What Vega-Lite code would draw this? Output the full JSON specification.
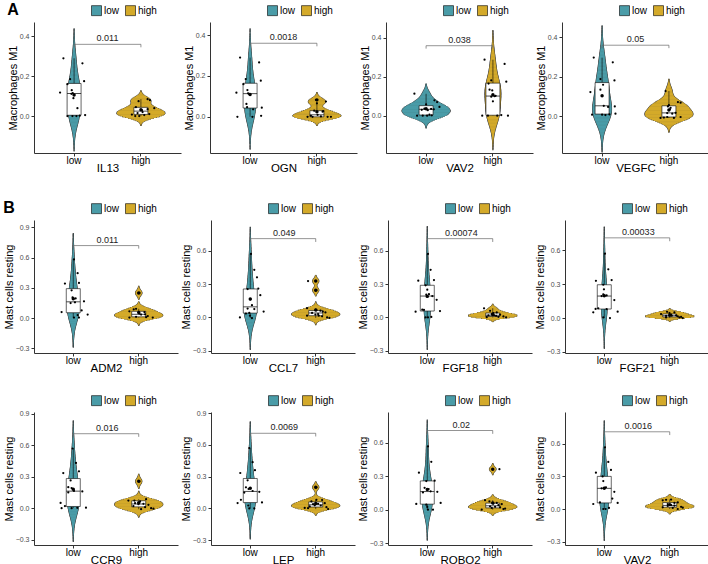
{
"$schema":"https://vega.github.io/schema/vega-lite/v6.json",
"background":"white",
"padding":{"left":3,"top":2,"right":0,"bottom":0},
"config":{
 "font":"Liberation Sans",
 "view":{"stroke":null},
 "axisY":{"labelFontSize":7,"labelColor":"#4d4d4d","titleFontSize":11,"titleFontWeight":"normal","titleColor":"black","domainColor":"#333333","tickColor":"#333333","tickSize":3,"labelPadding":2,"titlePadding":1,"grid":false},
 "axisX":{"labelFontSize":10,"labelColor":"black","titleFontSize":11.5,"titleFontWeight":"normal","titleColor":"black","domainColor":"#333333","tickColor":"#333333","tickSize":3,"labelPadding":-1,"titlePadding":-3,"labelAngle":0,"grid":false},
 "legend":{"orient":"none","legendX":57,"legendY":-17,"direction":"horizontal","symbolType":"square","symbolSize":100,"symbolStrokeColor":"black","symbolStrokeWidth":0.6,"symbolOpacity":1,"labelFontSize":10,"labelColor":"black","columnPadding":4,"labelOffset":2,"padding":0},
 "boxplot":{"size":14,"extent":1.5,"box":{"fill":"white","stroke":"black","strokeWidth":0.6},"median":{"color":"black","strokeWidth":1},"rule":{"color":"black","strokeWidth":0.6},"ticks":false,"outliers":{"filled":true,"color":"black","size":12,"opacity":1}},
 "title":{"anchor":"start","fontSize":16,"fontWeight":"bold","color":"black"}
},
"data":{"values":[
{"g":"IL13","grp":"low","v":0.29,"j":-0.16},{"g":"IL13","grp":"low","v":0.265,"j":0.125},{"g":"IL13","grp":"low","v":0.185,"j":-0.06},{"g":"IL13","grp":"low","v":0.175,"j":0.15},{"g":"IL13","grp":"low","v":0.16,"j":-0.1},{"g":"IL13","grp":"low","v":0.13,"j":-0.035},{"g":"IL13","grp":"low","v":0.118,"j":-0.21},{"g":"IL13","grp":"low","v":0.115,"j":-0.02},{"g":"IL13","grp":"low","v":0.112,"j":-0.04},{"g":"IL13","grp":"low","v":0.09,"j":-0.01},{"g":"IL13","grp":"low","v":0.04,"j":0.05},{"g":"IL13","grp":"low","v":0.005,"j":0.165},{"g":"IL13","grp":"low","v":0,"j":-0.1},{"g":"IL13","grp":"low","v":0,"j":-0.025},{"g":"IL13","grp":"low","v":0,"j":0.035},{"g":"IL13","grp":"low","v":0.002,"j":0.085},
{"g":"IL13","grp":"high","v":0.075,"j":-0.035},{"g":"IL13","grp":"high","v":0.085,"j":0.1},{"g":"IL13","grp":"high","v":0.08,"j":0.135},{"g":"IL13","grp":"high","v":0.045,"j":-0.075},{"g":"IL13","grp":"high","v":0.03,"j":0.015},{"g":"IL13","grp":"high","v":0.035,"j":0.1},{"g":"IL13","grp":"high","v":0.04,"j":0.2},{"g":"IL13","grp":"high","v":0.008,"j":-0.135},{"g":"IL13","grp":"high","v":0,"j":-0.085},{"g":"IL13","grp":"high","v":0,"j":-0.025},{"g":"IL13","grp":"high","v":0.005,"j":0.05},{"g":"IL13","grp":"high","v":0.01,"j":0.125},{"g":"IL13","grp":"high","v":0.02,"j":0.025},{"g":"IL13","grp":"high","v":0.015,"j":-0.05},
{"g":"OGN","grp":"low","v":0.29,"j":-0.15},{"g":"OGN","grp":"low","v":0.266,"j":0.135},{"g":"OGN","grp":"low","v":0.185,"j":-0.065},{"g":"OGN","grp":"low","v":0.177,"j":0.16},{"g":"OGN","grp":"low","v":0.16,"j":-0.1},{"g":"OGN","grp":"low","v":0.131,"j":-0.04},{"g":"OGN","grp":"low","v":0.118,"j":-0.205},{"g":"OGN","grp":"low","v":0.115,"j":-0.03},{"g":"OGN","grp":"low","v":0.112,"j":-0.015},{"g":"OGN","grp":"low","v":0.063,"j":-0.055},{"g":"OGN","grp":"low","v":0.047,"j":-0.045},{"g":"OGN","grp":"low","v":0.045,"j":0.175},{"g":"OGN","grp":"low","v":0.037,"j":0.045},{"g":"OGN","grp":"low","v":0.005,"j":0.165},{"g":"OGN","grp":"low","v":0,"j":-0.19},{"g":"OGN","grp":"low","v":0,"j":0.035},
{"g":"OGN","grp":"high","v":0.083,"j":-0.015},{"g":"OGN","grp":"high","v":0.075,"j":0.135},{"g":"OGN","grp":"high","v":0.066,"j":0},{"g":"OGN","grp":"high","v":0.03,"j":-0.04},{"g":"OGN","grp":"high","v":0.028,"j":0.095},{"g":"OGN","grp":"high","v":0.025,"j":0.085},{"g":"OGN","grp":"high","v":0.01,"j":0.01},{"g":"OGN","grp":"high","v":0.005,"j":-0.09},{"g":"OGN","grp":"high","v":0.002,"j":0.06},{"g":"OGN","grp":"high","v":0,"j":-0.14},{"g":"OGN","grp":"high","v":0,"j":-0.065},{"g":"OGN","grp":"high","v":0,"j":0.16},{"g":"OGN","grp":"high","v":0,"j":0.21},
{"g":"VAV2a","grp":"low","v":0.113,"j":-0.175},{"g":"VAV2a","grp":"low","v":0.079,"j":0.125},{"g":"VAV2a","grp":"low","v":0.07,"j":0.165},{"g":"VAV2a","grp":"low","v":0.058,"j":0},{"g":"VAV2a","grp":"low","v":0.045,"j":0.2},{"g":"VAV2a","grp":"low","v":0.036,"j":-0.025},{"g":"VAV2a","grp":"low","v":0.035,"j":0.075},{"g":"VAV2a","grp":"low","v":0.033,"j":0.115},{"g":"VAV2a","grp":"low","v":0.03,"j":-0.065},{"g":"VAV2a","grp":"low","v":0.028,"j":0.025},{"g":"VAV2a","grp":"low","v":0.005,"j":0.05},{"g":"VAV2a","grp":"low","v":0,"j":-0.135},{"g":"VAV2a","grp":"low","v":0,"j":-0.05},{"g":"VAV2a","grp":"low","v":0,"j":0.015},{"g":"VAV2a","grp":"low","v":0.002,"j":0.085},
{"g":"VAV2a","grp":"high","v":0.288,"j":-0.125},{"g":"VAV2a","grp":"high","v":0.266,"j":0.175},{"g":"VAV2a","grp":"high","v":0.182,"j":-0.025},{"g":"VAV2a","grp":"high","v":0.175,"j":0.2},{"g":"VAV2a","grp":"high","v":0.165,"j":-0.065},{"g":"VAV2a","grp":"high","v":0.134,"j":-0.05},{"g":"VAV2a","grp":"high","v":0.13,"j":-0.01},{"g":"VAV2a","grp":"high","v":0.102,"j":0.04},{"g":"VAV2a","grp":"high","v":0.1,"j":0.025},{"g":"VAV2a","grp":"high","v":0.098,"j":-0.025},{"g":"VAV2a","grp":"high","v":0.074,"j":0},{"g":"VAV2a","grp":"high","v":0.003,"j":0.125},{"g":"VAV2a","grp":"high","v":0,"j":-0.16},{"g":"VAV2a","grp":"high","v":0,"j":-0.075},{"g":"VAV2a","grp":"high","v":0,"j":0.065},{"g":"VAV2a","grp":"high","v":0,"j":0.225},
{"g":"VEGFC","grp":"low","v":0.297,"j":-0.125},{"g":"VEGFC","grp":"low","v":0.273,"j":0.16},{"g":"VEGFC","grp":"low","v":0.188,"j":-0.025},{"g":"VEGFC","grp":"low","v":0.181,"j":0.185},{"g":"VEGFC","grp":"low","v":0.159,"j":0.015},{"g":"VEGFC","grp":"low","v":0.134,"j":-0.025},{"g":"VEGFC","grp":"low","v":0.122,"j":-0.175},{"g":"VEGFC","grp":"low","v":0.052,"j":0.025},{"g":"VEGFC","grp":"low","v":0.049,"j":0.19},{"g":"VEGFC","grp":"low","v":0.046,"j":0.09},{"g":"VEGFC","grp":"low","v":0.012,"j":0.2},{"g":"VEGFC","grp":"low","v":0.007,"j":-0.15},{"g":"VEGFC","grp":"low","v":0.007,"j":0},{"g":"VEGFC","grp":"low","v":0.005,"j":0.05},{"g":"VEGFC","grp":"low","v":0.008,"j":0.11},
{"g":"VEGFC","grp":"high","v":0.127,"j":-0.05},{"g":"VEGFC","grp":"high","v":0.071,"j":0.135},{"g":"VEGFC","grp":"high","v":0.068,"j":0.175},{"g":"VEGFC","grp":"high","v":0.055,"j":0},{"g":"VEGFC","grp":"high","v":0.049,"j":-0.015},{"g":"VEGFC","grp":"high","v":0.042,"j":0.025},{"g":"VEGFC","grp":"high","v":0.034,"j":0.015},{"g":"VEGFC","grp":"high","v":0.016,"j":0.1},{"g":"VEGFC","grp":"high","v":0.015,"j":-0.025},{"g":"VEGFC","grp":"high","v":0.012,"j":0.05},{"g":"VEGFC","grp":"high","v":-0.005,"j":-0.025},{"g":"VEGFC","grp":"high","v":-0.01,"j":-0.125},{"g":"VEGFC","grp":"high","v":-0.008,"j":-0.075},{"g":"VEGFC","grp":"high","v":-0.01,"j":0.075},{"g":"VEGFC","grp":"high","v":-0.005,"j":0.175},
{"g":"ADM2","grp":"low","v":0.583,"j":0},{"g":"ADM2","grp":"low","v":0.446,"j":0.055},{"g":"ADM2","grp":"low","v":0.349,"j":0.075},{"g":"ADM2","grp":"low","v":0.343,"j":-0.135},{"g":"ADM2","grp":"low","v":0.276,"j":-0.035},{"g":"ADM2","grp":"low","v":0.205,"j":-0.02},{"g":"ADM2","grp":"low","v":0.196,"j":0.025},{"g":"ADM2","grp":"low","v":0.167,"j":0.15},{"g":"ADM2","grp":"low","v":0.157,"j":0.015},{"g":"ADM2","grp":"low","v":0.15,"j":-0.05},{"g":"ADM2","grp":"low","v":0.077,"j":0.115},{"g":"ADM2","grp":"low","v":0.06,"j":-0.185},{"g":"ADM2","grp":"low","v":0.035,"j":0.205},{"g":"ADM2","grp":"low","v":0.03,"j":0.055},{"g":"ADM2","grp":"low","v":0.006,"j":0},{"g":"ADM2","grp":"low","v":0.006,"j":0.075},
{"g":"ADM2","grp":"high","v":0.25,"j":0},{"g":"ADM2","grp":"high","v":0.093,"j":-0.05},{"g":"ADM2","grp":"high","v":0.088,"j":-0.085},{"g":"ADM2","grp":"high","v":0.068,"j":-0.15},{"g":"ADM2","grp":"high","v":0.06,"j":0.075},{"g":"ADM2","grp":"high","v":0.045,"j":0},{"g":"ADM2","grp":"high","v":0.038,"j":0.085},{"g":"ADM2","grp":"high","v":0.035,"j":0.025},{"g":"ADM2","grp":"high","v":0.02,"j":0.125},{"g":"ADM2","grp":"high","v":0.013,"j":-0.05},{"g":"ADM2","grp":"high","v":0.006,"j":-0.15},{"g":"ADM2","grp":"high","v":0.006,"j":0.2},{"g":"ADM2","grp":"high","v":0.01,"j":0.1},
{"g":"CCL7","grp":"low","v":0.572,"j":0},{"g":"CCL7","grp":"low","v":0.429,"j":0.05},{"g":"CCL7","grp":"low","v":0.361,"j":0.09},{"g":"CCL7","grp":"low","v":0.26,"j":0.11},{"g":"CCL7","grp":"low","v":0.255,"j":-0.05},{"g":"CCL7","grp":"low","v":0.2,"j":0.14},{"g":"CCL7","grp":"low","v":0.162,"j":-0.01},{"g":"CCL7","grp":"low","v":0.11,"j":0.015},{"g":"CCL7","grp":"low","v":0.08,"j":-0.05},{"g":"CCL7","grp":"low","v":0.075,"j":0.05},{"g":"CCL7","grp":"low","v":0.052,"j":0.19},{"g":"CCL7","grp":"low","v":0.04,"j":-0.025},{"g":"CCL7","grp":"low","v":0.035,"j":-0.075},{"g":"CCL7","grp":"low","v":0.015,"j":-0.015},{"g":"CCL7","grp":"low","v":0,"j":-0.165},{"g":"CCL7","grp":"low","v":-0.006,"j":0.015},
{"g":"CCL7","grp":"high","v":0.328,"j":-0.125},{"g":"CCL7","grp":"high","v":0.245,"j":0},{"g":"CCL7","grp":"high","v":0.083,"j":-0.14},{"g":"CCL7","grp":"high","v":0.065,"j":0},{"g":"CCL7","grp":"high","v":0.06,"j":0.06},{"g":"CCL7","grp":"high","v":0.052,"j":0.095},{"g":"CCL7","grp":"high","v":0.045,"j":0.135},{"g":"CCL7","grp":"high","v":0.04,"j":-0.065},{"g":"CCL7","grp":"high","v":0.03,"j":0.025},{"g":"CCL7","grp":"high","v":0.025,"j":-0.015},{"g":"CCL7","grp":"high","v":0.015,"j":0.035},{"g":"CCL7","grp":"high","v":0.015,"j":-0.14},{"g":"CCL7","grp":"high","v":0.01,"j":0.085},{"g":"CCL7","grp":"high","v":0,"j":0.16},{"g":"CCL7","grp":"high","v":-0.005,"j":0.195},
{"g":"FGF18","grp":"low","v":0.572,"j":0},{"g":"FGF18","grp":"low","v":0.429,"j":0.04},{"g":"FGF18","grp":"low","v":0.337,"j":0.09},{"g":"FGF18","grp":"low","v":0.331,"j":-0.145},{"g":"FGF18","grp":"low","v":0.29,"j":-0.035},{"g":"FGF18","grp":"low","v":0.25,"j":-0.01},{"g":"FGF18","grp":"low","v":0.21,"j":0.015},{"g":"FGF18","grp":"low","v":0.205,"j":-0.025},{"g":"FGF18","grp":"low","v":0.193,"j":0.065},{"g":"FGF18","grp":"low","v":0.159,"j":0.13},{"g":"FGF18","grp":"low","v":0.07,"j":-0.085},{"g":"FGF18","grp":"low","v":0.068,"j":-0.06},{"g":"FGF18","grp":"low","v":0.058,"j":0.18},{"g":"FGF18","grp":"low","v":0.052,"j":-0.185},{"g":"FGF18","grp":"low","v":0.005,"j":0.05},{"g":"FGF18","grp":"low","v":0,"j":-0.035},{"g":"FGF18","grp":"low","v":0,"j":0},
{"g":"FGF18","grp":"high","v":0.083,"j":-0.14},{"g":"FGF18","grp":"high","v":0.06,"j":-0.05},{"g":"FGF18","grp":"high","v":0.045,"j":0.05},{"g":"FGF18","grp":"high","v":0.04,"j":0},{"g":"FGF18","grp":"high","v":0.03,"j":-0.025},{"g":"FGF18","grp":"high","v":0.025,"j":0.1},{"g":"FGF18","grp":"high","v":0.02,"j":0.01},{"g":"FGF18","grp":"high","v":0.02,"j":-0.075},{"g":"FGF18","grp":"high","v":0.015,"j":0.04},{"g":"FGF18","grp":"high","v":0.009,"j":0.15},{"g":"FGF18","grp":"high","v":0.006,"j":0.075},{"g":"FGF18","grp":"high","v":0,"j":0.19},{"g":"FGF18","grp":"high","v":0.003,"j":-0.1},
{"g":"FGF21","grp":"low","v":0.57,"j":0},{"g":"FGF21","grp":"low","v":0.432,"j":0.05},{"g":"FGF21","grp":"low","v":0.336,"j":0.1},{"g":"FGF21","grp":"low","v":0.33,"j":-0.135},{"g":"FGF21","grp":"low","v":0.295,"j":-0.025},{"g":"FGF21","grp":"low","v":0.255,"j":-0.015},{"g":"FGF21","grp":"low","v":0.21,"j":-0.025},{"g":"FGF21","grp":"low","v":0.2,"j":0.025},{"g":"FGF21","grp":"low","v":0.195,"j":-0.05},{"g":"FGF21","grp":"low","v":0.159,"j":0.14},{"g":"FGF21","grp":"low","v":0.087,"j":-0.1},{"g":"FGF21","grp":"low","v":0.081,"j":-0.14},{"g":"FGF21","grp":"low","v":0.08,"j":0.025},{"g":"FGF21","grp":"low","v":0.057,"j":0.19},{"g":"FGF21","grp":"low","v":0.051,"j":-0.175},{"g":"FGF21","grp":"low","v":0.006,"j":-0.025},{"g":"FGF21","grp":"low","v":0,"j":0.075},
{"g":"FGF21","grp":"high","v":0.055,"j":-0.05},{"g":"FGF21","grp":"high","v":0.05,"j":0.06},{"g":"FGF21","grp":"high","v":0.045,"j":-0.015},{"g":"FGF21","grp":"high","v":0.036,"j":-0.14},{"g":"FGF21","grp":"high","v":0.03,"j":0.01},{"g":"FGF21","grp":"high","v":0.025,"j":0.085},{"g":"FGF21","grp":"high","v":0.021,"j":0.02},{"g":"FGF21","grp":"high","v":0.02,"j":-0.065},{"g":"FGF21","grp":"high","v":0.015,"j":0.11},{"g":"FGF21","grp":"high","v":0.01,"j":0.16},{"g":"FGF21","grp":"high","v":0.006,"j":0.135},{"g":"FGF21","grp":"high","v":0.006,"j":-0.065},{"g":"FGF21","grp":"high","v":0,"j":0.185},
{"g":"CCR9","grp":"low","v":0.569,"j":-0.02},{"g":"CCR9","grp":"low","v":0.431,"j":0.03},{"g":"CCR9","grp":"low","v":0.351,"j":0.075},{"g":"CCR9","grp":"low","v":0.335,"j":-0.16},{"g":"CCR9","grp":"low","v":0.265,"j":-0.05},{"g":"CCR9","grp":"low","v":0.2,"j":-0.085},{"g":"CCR9","grp":"low","v":0.192,"j":-0.035},{"g":"CCR9","grp":"low","v":0.165,"j":0},{"g":"CCR9","grp":"low","v":0.16,"j":0.125},{"g":"CCR9","grp":"low","v":0.15,"j":-0.085},{"g":"CCR9","grp":"low","v":0.05,"j":-0.2},{"g":"CCR9","grp":"low","v":0.02,"j":-0.135},{"g":"CCR9","grp":"low","v":0.005,"j":0.18},{"g":"CCR9","grp":"low","v":0.003,"j":0.05},{"g":"CCR9","grp":"low","v":0,"j":-0.185},{"g":"CCR9","grp":"low","v":0,"j":-0.035},
{"g":"CCR9","grp":"high","v":0.256,"j":0},{"g":"CCR9","grp":"high","v":0.086,"j":0.1},{"g":"CCR9","grp":"high","v":0.073,"j":-0.075},{"g":"CCR9","grp":"high","v":0.073,"j":-0.165},{"g":"CCR9","grp":"high","v":0.064,"j":0.01},{"g":"CCR9","grp":"high","v":0.048,"j":-0.065},{"g":"CCR9","grp":"high","v":0.042,"j":0.06},{"g":"CCR9","grp":"high","v":0.038,"j":-0.015},{"g":"CCR9","grp":"high","v":0.032,"j":0.135},{"g":"CCR9","grp":"high","v":0.02,"j":-0.09},{"g":"CCR9","grp":"high","v":0.01,"j":0.085},{"g":"CCR9","grp":"high","v":0,"j":0.175},{"g":"CCR9","grp":"high","v":-0.005,"j":0.21},{"g":"CCR9","grp":"high","v":-0.01,"j":0.025},
{"g":"LEP","grp":"low","v":0.57,"j":-0.025},{"g":"LEP","grp":"low","v":0.437,"j":0.025},{"g":"LEP","grp":"low","v":0.361,"j":0.06},{"g":"LEP","grp":"low","v":0.335,"j":-0.16},{"g":"LEP","grp":"low","v":0.266,"j":-0.05},{"g":"LEP","grp":"low","v":0.2,"j":-0.075},{"g":"LEP","grp":"low","v":0.184,"j":-0.035},{"g":"LEP","grp":"low","v":0.165,"j":0.025},{"g":"LEP","grp":"low","v":0.157,"j":0.125},{"g":"LEP","grp":"low","v":0.15,"j":-0.1},{"g":"LEP","grp":"low","v":0.082,"j":-0.15},{"g":"LEP","grp":"low","v":0.057,"j":0.165},{"g":"LEP","grp":"low","v":0.051,"j":-0.2},{"g":"LEP","grp":"low","v":0.028,"j":-0.04},{"g":"LEP","grp":"low","v":0,"j":-0.025},{"g":"LEP","grp":"low","v":0,"j":0.05},
{"g":"LEP","grp":"high","v":0.2,"j":0},{"g":"LEP","grp":"high","v":0.082,"j":0},{"g":"LEP","grp":"high","v":0.08,"j":0.085},{"g":"LEP","grp":"high","v":0.066,"j":-0.075},{"g":"LEP","grp":"high","v":0.05,"j":0.125},{"g":"LEP","grp":"high","v":0.044,"j":0.025},{"g":"LEP","grp":"high","v":0.04,"j":-0.05},{"g":"LEP","grp":"high","v":0.03,"j":-0.025},{"g":"LEP","grp":"high","v":0.028,"j":0.065},{"g":"LEP","grp":"high","v":0.019,"j":-0.1},{"g":"LEP","grp":"high","v":0.012,"j":0.15},{"g":"LEP","grp":"high","v":0.005,"j":-0.175},{"g":"LEP","grp":"high","v":0.003,"j":-0.125},{"g":"LEP","grp":"high","v":-0.006,"j":0.175},
{"g":"ROBO2","grp":"low","v":0.568,"j":0},{"g":"ROBO2","grp":"low","v":0.429,"j":0.05},{"g":"ROBO2","grp":"low","v":0.332,"j":-0.135},{"g":"ROBO2","grp":"low","v":0.26,"j":0.1},{"g":"ROBO2","grp":"low","v":0.257,"j":-0.025},{"g":"ROBO2","grp":"low","v":0.196,"j":-0.05},{"g":"ROBO2","grp":"low","v":0.185,"j":0.01},{"g":"ROBO2","grp":"low","v":0.165,"j":0.04},{"g":"ROBO2","grp":"low","v":0.16,"j":0.14},{"g":"ROBO2","grp":"low","v":0.155,"j":-0.075},{"g":"ROBO2","grp":"low","v":0.06,"j":0.19},{"g":"ROBO2","grp":"low","v":0.051,"j":-0.175},{"g":"ROBO2","grp":"low","v":0.045,"j":-0.025},{"g":"ROBO2","grp":"low","v":0.024,"j":-0.01},{"g":"ROBO2","grp":"low","v":0,"j":0},{"g":"ROBO2","grp":"low","v":0,"j":0.075},
{"g":"ROBO2","grp":"high","v":0.363,"j":0.09},{"g":"ROBO2","grp":"high","v":0.085,"j":-0.125},{"g":"ROBO2","grp":"high","v":0.075,"j":-0.06},{"g":"ROBO2","grp":"high","v":0.06,"j":0.05},{"g":"ROBO2","grp":"high","v":0.055,"j":0},{"g":"ROBO2","grp":"high","v":0.05,"j":0.125},{"g":"ROBO2","grp":"high","v":0.04,"j":0.075},{"g":"ROBO2","grp":"high","v":0.03,"j":-0.05},{"g":"ROBO2","grp":"high","v":0.025,"j":0.025},{"g":"ROBO2","grp":"high","v":0.02,"j":0.1},{"g":"ROBO2","grp":"high","v":0.015,"j":-0.025},{"g":"ROBO2","grp":"high","v":0.01,"j":0.175},{"g":"ROBO2","grp":"high","v":0,"j":-0.175},{"g":"ROBO2","grp":"high","v":0.005,"j":0.15},
{"g":"VAV2b","grp":"low","v":0.567,"j":0},{"g":"VAV2b","grp":"low","v":0.433,"j":0.05},{"g":"VAV2b","grp":"low","v":0.359,"j":0.09},{"g":"VAV2b","grp":"low","v":0.334,"j":-0.135},{"g":"VAV2b","grp":"low","v":0.3,"j":-0.035},{"g":"VAV2b","grp":"low","v":0.257,"j":-0.025},{"g":"VAV2b","grp":"low","v":0.2,"j":0.015},{"g":"VAV2b","grp":"low","v":0.195,"j":-0.01},{"g":"VAV2b","grp":"low","v":0.19,"j":-0.05},{"g":"VAV2b","grp":"low","v":0.158,"j":0.14},{"g":"VAV2b","grp":"low","v":0.096,"j":0.11},{"g":"VAV2b","grp":"low","v":0.06,"j":-0.075},{"g":"VAV2b","grp":"low","v":0.056,"j":0.19},{"g":"VAV2b","grp":"low","v":0.046,"j":-0.175},{"g":"VAV2b","grp":"low","v":0.01,"j":0.06},{"g":"VAV2b","grp":"low","v":0,"j":-0.025},{"g":"VAV2b","grp":"low","v":0,"j":0.01},
{"g":"VAV2b","grp":"high","v":0.087,"j":0.01},{"g":"VAV2b","grp":"high","v":0.085,"j":-0.065},{"g":"VAV2b","grp":"high","v":0.08,"j":-0.115},{"g":"VAV2b","grp":"high","v":0.06,"j":0.11},{"g":"VAV2b","grp":"high","v":0.056,"j":0.06},{"g":"VAV2b","grp":"high","v":0.045,"j":-0.04},{"g":"VAV2b","grp":"high","v":0.035,"j":0.01},{"g":"VAV2b","grp":"high","v":0.031,"j":0.06},{"g":"VAV2b","grp":"high","v":0.028,"j":-0.04},{"g":"VAV2b","grp":"high","v":0.02,"j":0.16},{"g":"VAV2b","grp":"high","v":0.015,"j":-0.115},{"g":"VAV2b","grp":"high","v":0.012,"j":0.185},{"g":"VAV2b","grp":"high","v":0.01,"j":0.035},{"g":"VAV2b","grp":"high","v":0,"j":0.11},
{"g":"IL13","p":"0.011","py":0.36,"py2":0.345},{"g":"OGN","p":"0.0018","py":0.36,"py2":0.345},{"g":"VAV2a","p":"0.038","py":0.36,"py2":0.345},{"g":"VEGFC","p":"0.05","py":0.36,"py2":0.345},
{"g":"ADM2","p":"0.011","py":0.72,"py2":0.69},{"g":"CCL7","p":"0.049","py":0.71,"py2":0.68},{"g":"FGF18","p":"0.00074","py":0.71,"py2":0.68},{"g":"FGF21","p":"0.00033","py":0.71,"py2":0.68},
{"g":"CCR9","p":"0.016","py":0.71,"py2":0.68},{"g":"LEP","p":"0.0069","py":0.71,"py2":0.68},{"g":"ROBO2","p":"0.02","py":0.71,"py2":0.68},{"g":"VAV2b","p":"0.0016","py":0.71,"py2":0.68}
]},
"resolve":{"legend":{"color":"independent"}},
"spacing":26,
"vconcat":[
{"title":{"text":"A","offset":-13},"spacing":2,"resolve":{"legend":{"color":"independent"}},"hconcat":[
{"transform":[{"filter":"datum.g=='IL13'"}],"width":147,"height":131,
"encoding":{"x":{"field":"grp","type":"nominal","title":"IL13","scale":{"type":"band","domain":["low","high"],"paddingInner":0,"paddingOuter":0.1}},"y":{"field":"v","type":"quantitative","title":"Macrophages M1","scale":{"domain":[-0.185,0.472],"nice":false,"zero":false},"axis":{"values":[0,0.2,0.4],"format":".1f"}}},
"layer":[
{"transform":[{"filter":"isValid(datum.v)"},{"density":"v","groupby":["grp"],"extent":[-0.25,0.55],"steps":200,"as":["v","density"]},{"joinaggregate":[{"op":"max","field":"density","as":"dmax"}],"groupby":["grp"]},{"filter":"datum.density>0.005*datum.dmax"}],"mark":{"type":"tick","thickness":1.3,"color":"#333333","opacity":1,"clip":true},"encoding":{"size":{"field":"density","type":"quantitative","scale":{"range":[1.1,49.1],"zero":true},"legend":null}}},
{"transform":[{"filter":"isValid(datum.v)"},{"density":"v","groupby":["grp"],"extent":[-0.25,0.55],"steps":200,"as":["v","density"]},{"joinaggregate":[{"op":"max","field":"density","as":"dmax"}],"groupby":["grp"]},{"filter":"datum.density>0.005*datum.dmax"}],"mark":{"type":"tick","thickness":1.3,"opacity":1,"clip":true},"encoding":{"size":{"field":"density","type":"quantitative","scale":{"range":[0,48],"zero":true},"legend":null},"color":{"field":"grp","type":"nominal","scale":{"domain":["low","high"],"range":["#4A9CA8","#D4AA2A"]},"legend":{"title":null,"symbolType":"square"}}}},
{"transform":[{"filter":"isValid(datum.v)"}],"mark":"boxplot"},
{"transform":[{"filter":"isValid(datum.v)"}],"mark":{"type":"circle","size":5,"color":"black","opacity":1},"encoding":{"xOffset":{"field":"j","type":"quantitative","scale":{"domain":[-1,1],"range":[-33.41,100.23]}}}},
{"transform":[{"filter":"isValid(datum.v)"}],"mark":{"type":"circle","size":12,"color":"black","opacity":1},"encoding":{"y":{"aggregate":"mean","field":"v","type":"quantitative","title":"Macrophages M1"}}},
{"transform":[{"filter":"isValid(datum.p)"}],"mark":{"type":"rule","color":"#666666","strokeWidth":0.7},"encoding":{"x":{"datum":"low"},"x2":{"datum":"high"},"y":{"field":"py","type":"quantitative","title":"Macrophages M1"}}},
{"transform":[{"filter":"isValid(datum.p)"}],"mark":{"type":"rule","color":"#666666","strokeWidth":0.7},"encoding":{"x":{"datum":"low"},"y":{"field":"py","type":"quantitative","title":"Macrophages M1"},"y2":{"field":"py2"}}},
{"transform":[{"filter":"isValid(datum.p)"}],"mark":{"type":"rule","color":"#666666","strokeWidth":0.7},"encoding":{"x":{"datum":"high"},"y":{"field":"py","type":"quantitative","title":"Macrophages M1"},"y2":{"field":"py2"}}},
{"transform":[{"filter":"isValid(datum.p)"}],"mark":{"type":"text","fontSize":9,"dy":-6,"color":"#222222"},"encoding":{"x":{"datum":"low"},"xOffset":{"datum":0.5},"y":{"field":"py","type":"quantitative","title":"Macrophages M1"},"text":{"field":"p","type":"nominal"}}}
],"resolve":{"scale":{"size":"independent"}}},
{"transform":[{"filter":"datum.g=='OGN'"}],"width":147,"height":131,
"encoding":{"x":{"field":"grp","type":"nominal","title":"OGN","scale":{"type":"band","domain":["low","high"],"paddingInner":0,"paddingOuter":0.1}},"y":{"field":"v","type":"quantitative","title":"Macrophages M1","scale":{"domain":[-0.177,0.464],"nice":false,"zero":false},"axis":{"values":[0,0.2,0.4],"format":".1f"}}},
"layer":[
{"transform":[{"filter":"isValid(datum.v)"},{"density":"v","groupby":["grp"],"extent":[-0.25,0.55],"steps":200,"as":["v","density"]},{"joinaggregate":[{"op":"max","field":"density","as":"dmax"}],"groupby":["grp"]},{"filter":"datum.density>0.005*datum.dmax"}],"mark":{"type":"tick","thickness":1.3,"color":"#333333","opacity":1,"clip":true},"encoding":{"size":{"field":"density","type":"quantitative","scale":{"range":[1.1,49.1],"zero":true},"legend":null}}},
{"transform":[{"filter":"isValid(datum.v)"},{"density":"v","groupby":["grp"],"extent":[-0.25,0.55],"steps":200,"as":["v","density"]},{"joinaggregate":[{"op":"max","field":"density","as":"dmax"}],"groupby":["grp"]},{"filter":"datum.density>0.005*datum.dmax"}],"mark":{"type":"tick","thickness":1.3,"opacity":1,"clip":true},"encoding":{"size":{"field":"density","type":"quantitative","scale":{"range":[0,48],"zero":true},"legend":null},"color":{"field":"grp","type":"nominal","scale":{"domain":["low","high"],"range":["#4A9CA8","#D4AA2A"]},"legend":{"title":null,"symbolType":"square"}}}},
{"transform":[{"filter":"isValid(datum.v)"}],"mark":"boxplot"},
{"transform":[{"filter":"isValid(datum.v)"}],"mark":{"type":"circle","size":5,"color":"black","opacity":1},"encoding":{"xOffset":{"field":"j","type":"quantitative","scale":{"domain":[-1,1],"range":[-33.41,100.23]}}}},
{"transform":[{"filter":"isValid(datum.v)"}],"mark":{"type":"circle","size":12,"color":"black","opacity":1},"encoding":{"y":{"aggregate":"mean","field":"v","type":"quantitative","title":"Macrophages M1"}}},
{"transform":[{"filter":"isValid(datum.p)"}],"mark":{"type":"rule","color":"#666666","strokeWidth":0.7},"encoding":{"x":{"datum":"low"},"x2":{"datum":"high"},"y":{"field":"py","type":"quantitative","title":"Macrophages M1"}}},
{"transform":[{"filter":"isValid(datum.p)"}],"mark":{"type":"rule","color":"#666666","strokeWidth":0.7},"encoding":{"x":{"datum":"low"},"y":{"field":"py","type":"quantitative","title":"Macrophages M1"},"y2":{"field":"py2"}}},
{"transform":[{"filter":"isValid(datum.p)"}],"mark":{"type":"rule","color":"#666666","strokeWidth":0.7},"encoding":{"x":{"datum":"high"},"y":{"field":"py","type":"quantitative","title":"Macrophages M1"},"y2":{"field":"py2"}}},
{"transform":[{"filter":"isValid(datum.p)"}],"mark":{"type":"text","fontSize":9,"dy":-6,"color":"#222222"},"encoding":{"x":{"datum":"low"},"xOffset":{"datum":0.5},"y":{"field":"py","type":"quantitative","title":"Macrophages M1"},"text":{"field":"p","type":"nominal"}}}
],"resolve":{"scale":{"size":"independent"}}},
{"transform":[{"filter":"datum.g=='VAV2a'"}],"width":147,"height":131,
"encoding":{"x":{"field":"grp","type":"nominal","title":"VAV2","scale":{"type":"band","domain":["low","high"],"paddingInner":0,"paddingOuter":0.1}},"y":{"field":"v","type":"quantitative","title":"Macrophages M1","scale":{"domain":[-0.192,0.482],"nice":false,"zero":false},"axis":{"values":[0,0.2,0.4],"format":".1f"}}},
"layer":[
{"transform":[{"filter":"isValid(datum.v)"},{"density":"v","groupby":["grp"],"extent":[-0.25,0.55],"steps":200,"as":["v","density"]},{"joinaggregate":[{"op":"max","field":"density","as":"dmax"}],"groupby":["grp"]},{"filter":"datum.density>0.005*datum.dmax"}],"mark":{"type":"tick","thickness":1.3,"color":"#333333","opacity":1,"clip":true},"encoding":{"size":{"field":"density","type":"quantitative","scale":{"range":[1.1,49.1],"zero":true},"legend":null}}},
{"transform":[{"filter":"isValid(datum.v)"},{"density":"v","groupby":["grp"],"extent":[-0.25,0.55],"steps":200,"as":["v","density"]},{"joinaggregate":[{"op":"max","field":"density","as":"dmax"}],"groupby":["grp"]},{"filter":"datum.density>0.005*datum.dmax"}],"mark":{"type":"tick","thickness":1.3,"opacity":1,"clip":true},"encoding":{"size":{"field":"density","type":"quantitative","scale":{"range":[0,48],"zero":true},"legend":null},"color":{"field":"grp","type":"nominal","scale":{"domain":["low","high"],"range":["#4A9CA8","#D4AA2A"]},"legend":{"title":null,"symbolType":"square"}}}},
{"transform":[{"filter":"isValid(datum.v)"}],"mark":"boxplot"},
{"transform":[{"filter":"isValid(datum.v)"}],"mark":{"type":"circle","size":5,"color":"black","opacity":1},"encoding":{"xOffset":{"field":"j","type":"quantitative","scale":{"domain":[-1,1],"range":[-33.41,100.23]}}}},
{"transform":[{"filter":"isValid(datum.v)"}],"mark":{"type":"circle","size":12,"color":"black","opacity":1},"encoding":{"y":{"aggregate":"mean","field":"v","type":"quantitative","title":"Macrophages M1"}}},
{"transform":[{"filter":"isValid(datum.p)"}],"mark":{"type":"rule","color":"#666666","strokeWidth":0.7},"encoding":{"x":{"datum":"low"},"x2":{"datum":"high"},"y":{"field":"py","type":"quantitative","title":"Macrophages M1"}}},
{"transform":[{"filter":"isValid(datum.p)"}],"mark":{"type":"rule","color":"#666666","strokeWidth":0.7},"encoding":{"x":{"datum":"low"},"y":{"field":"py","type":"quantitative","title":"Macrophages M1"},"y2":{"field":"py2"}}},
{"transform":[{"filter":"isValid(datum.p)"}],"mark":{"type":"rule","color":"#666666","strokeWidth":0.7},"encoding":{"x":{"datum":"high"},"y":{"field":"py","type":"quantitative","title":"Macrophages M1"},"y2":{"field":"py2"}}},
{"transform":[{"filter":"isValid(datum.p)"}],"mark":{"type":"text","fontSize":9,"dy":-6,"color":"#222222"},"encoding":{"x":{"datum":"low"},"xOffset":{"datum":0.5},"y":{"field":"py","type":"quantitative","title":"Macrophages M1"},"text":{"field":"p","type":"nominal"}}}
],"resolve":{"scale":{"size":"independent"}}},
{"transform":[{"filter":"datum.g=='VEGFC'"}],"width":147,"height":131,
"encoding":{"x":{"field":"grp","type":"nominal","title":"VEGFC","scale":{"type":"band","domain":["low","high"],"paddingInner":0,"paddingOuter":0.1}},"y":{"field":"v","type":"quantitative","title":"Macrophages M1","scale":{"domain":[-0.188,0.478],"nice":false,"zero":false},"axis":{"values":[0,0.2,0.4],"format":".1f"}}},
"layer":[
{"transform":[{"filter":"isValid(datum.v)"},{"density":"v","groupby":["grp"],"extent":[-0.25,0.55],"steps":200,"as":["v","density"]},{"joinaggregate":[{"op":"max","field":"density","as":"dmax"}],"groupby":["grp"]},{"filter":"datum.density>0.005*datum.dmax"}],"mark":{"type":"tick","thickness":1.3,"color":"#333333","opacity":1,"clip":true},"encoding":{"size":{"field":"density","type":"quantitative","scale":{"range":[1.1,49.1],"zero":true},"legend":null}}},
{"transform":[{"filter":"isValid(datum.v)"},{"density":"v","groupby":["grp"],"extent":[-0.25,0.55],"steps":200,"as":["v","density"]},{"joinaggregate":[{"op":"max","field":"density","as":"dmax"}],"groupby":["grp"]},{"filter":"datum.density>0.005*datum.dmax"}],"mark":{"type":"tick","thickness":1.3,"opacity":1,"clip":true},"encoding":{"size":{"field":"density","type":"quantitative","scale":{"range":[0,48],"zero":true},"legend":null},"color":{"field":"grp","type":"nominal","scale":{"domain":["low","high"],"range":["#4A9CA8","#D4AA2A"]},"legend":{"title":null,"symbolType":"square"}}}},
{"transform":[{"filter":"isValid(datum.v)"}],"mark":"boxplot"},
{"transform":[{"filter":"isValid(datum.v)"}],"mark":{"type":"circle","size":5,"color":"black","opacity":1},"encoding":{"xOffset":{"field":"j","type":"quantitative","scale":{"domain":[-1,1],"range":[-33.41,100.23]}}}},
{"transform":[{"filter":"isValid(datum.v)"}],"mark":{"type":"circle","size":12,"color":"black","opacity":1},"encoding":{"y":{"aggregate":"mean","field":"v","type":"quantitative","title":"Macrophages M1"}}},
{"transform":[{"filter":"isValid(datum.p)"}],"mark":{"type":"rule","color":"#666666","strokeWidth":0.7},"encoding":{"x":{"datum":"low"},"x2":{"datum":"high"},"y":{"field":"py","type":"quantitative","title":"Macrophages M1"}}},
{"transform":[{"filter":"isValid(datum.p)"}],"mark":{"type":"rule","color":"#666666","strokeWidth":0.7},"encoding":{"x":{"datum":"low"},"y":{"field":"py","type":"quantitative","title":"Macrophages M1"},"y2":{"field":"py2"}}},
{"transform":[{"filter":"isValid(datum.p)"}],"mark":{"type":"rule","color":"#666666","strokeWidth":0.7},"encoding":{"x":{"datum":"high"},"y":{"field":"py","type":"quantitative","title":"Macrophages M1"},"y2":{"field":"py2"}}},
{"transform":[{"filter":"isValid(datum.p)"}],"mark":{"type":"text","fontSize":9,"dy":-6,"color":"#222222"},"encoding":{"x":{"datum":"low"},"xOffset":{"datum":0.5},"y":{"field":"py","type":"quantitative","title":"Macrophages M1"},"text":{"field":"p","type":"nominal"}}}
],"resolve":{"scale":{"size":"independent"}}}
]},
{"title":{"text":"B","offset":-13},"spacing":21,"resolve":{"legend":{"color":"independent"}},"vconcat":[
{"spacing":2,"resolve":{"legend":{"color":"independent"}},"hconcat":[
{"transform":[{"filter":"datum.g=='ADM2'"}],"width":144,"height":133,
"encoding":{"x":{"field":"grp","type":"nominal","title":"ADM2","scale":{"type":"band","domain":["low","high"],"paddingInner":0,"paddingOuter":0.1}},"y":{"field":"v","type":"quantitative","title":"Mast cells resting","scale":{"domain":[-0.346,0.974],"nice":false,"zero":false},"axis":{"values":[-0.3,0,0.3,0.6,0.9],"format":".1f"}}},
"layer":[
{"transform":[{"filter":"isValid(datum.v)"},{"density":"v","groupby":["grp"],"extent":[-0.4,1.0],"steps":200,"as":["v","density"]},{"joinaggregate":[{"op":"max","field":"density","as":"dmax"}],"groupby":["grp"]},{"filter":"datum.density>0.005*datum.dmax"}],"mark":{"type":"tick","thickness":1.3,"color":"#333333","opacity":1,"clip":true},"encoding":{"size":{"field":"density","type":"quantitative","scale":{"range":[1.1,49.1],"zero":true},"legend":null}}},
{"transform":[{"filter":"isValid(datum.v)"},{"density":"v","groupby":["grp"],"extent":[-0.4,1.0],"steps":200,"as":["v","density"]},{"joinaggregate":[{"op":"max","field":"density","as":"dmax"}],"groupby":["grp"]},{"filter":"datum.density>0.005*datum.dmax"}],"mark":{"type":"tick","thickness":1.3,"opacity":1,"clip":true},"encoding":{"size":{"field":"density","type":"quantitative","scale":{"range":[0,48],"zero":true},"legend":null},"color":{"field":"grp","type":"nominal","scale":{"domain":["low","high"],"range":["#4A9CA8","#D4AA2A"]},"legend":{"title":null,"symbolType":"square"}}}},
{"transform":[{"filter":"isValid(datum.v)"}],"mark":"boxplot"},
{"transform":[{"filter":"isValid(datum.v)"}],"mark":{"type":"circle","size":5,"color":"black","opacity":1},"encoding":{"xOffset":{"field":"j","type":"quantitative","scale":{"domain":[-1,1],"range":[-32.73,98.18]}}}},
{"transform":[{"filter":"isValid(datum.v)"}],"mark":{"type":"circle","size":12,"color":"black","opacity":1},"encoding":{"y":{"aggregate":"mean","field":"v","type":"quantitative","title":"Mast cells resting"}}},
{"transform":[{"filter":"isValid(datum.p)"}],"mark":{"type":"rule","color":"#666666","strokeWidth":0.7},"encoding":{"x":{"datum":"low"},"x2":{"datum":"high"},"y":{"field":"py","type":"quantitative","title":"Mast cells resting"}}},
{"transform":[{"filter":"isValid(datum.p)"}],"mark":{"type":"rule","color":"#666666","strokeWidth":0.7},"encoding":{"x":{"datum":"low"},"y":{"field":"py","type":"quantitative","title":"Mast cells resting"},"y2":{"field":"py2"}}},
{"transform":[{"filter":"isValid(datum.p)"}],"mark":{"type":"rule","color":"#666666","strokeWidth":0.7},"encoding":{"x":{"datum":"high"},"y":{"field":"py","type":"quantitative","title":"Mast cells resting"},"y2":{"field":"py2"}}},
{"transform":[{"filter":"isValid(datum.p)"}],"mark":{"type":"text","fontSize":9,"dy":-6,"color":"#222222"},"encoding":{"x":{"datum":"low"},"xOffset":{"datum":0.5},"y":{"field":"py","type":"quantitative","title":"Mast cells resting"},"text":{"field":"p","type":"nominal"}}}
],"resolve":{"scale":{"size":"independent"}}},
{"transform":[{"filter":"datum.g=='CCL7'"}],"width":144,"height":133,
"encoding":{"x":{"field":"grp","type":"nominal","title":"CCL7","scale":{"type":"band","domain":["low","high"],"paddingInner":0,"paddingOuter":0.1}},"y":{"field":"v","type":"quantitative","title":"Mast cells resting","scale":{"domain":[-0.321,0.878],"nice":false,"zero":false},"axis":{"values":[-0.3,0,0.3,0.6],"format":".1f"}}},
"layer":[
{"transform":[{"filter":"isValid(datum.v)"},{"density":"v","groupby":["grp"],"extent":[-0.4,1.0],"steps":200,"as":["v","density"]},{"joinaggregate":[{"op":"max","field":"density","as":"dmax"}],"groupby":["grp"]},{"filter":"datum.density>0.005*datum.dmax"}],"mark":{"type":"tick","thickness":1.3,"color":"#333333","opacity":1,"clip":true},"encoding":{"size":{"field":"density","type":"quantitative","scale":{"range":[1.1,49.1],"zero":true},"legend":null}}},
{"transform":[{"filter":"isValid(datum.v)"},{"density":"v","groupby":["grp"],"extent":[-0.4,1.0],"steps":200,"as":["v","density"]},{"joinaggregate":[{"op":"max","field":"density","as":"dmax"}],"groupby":["grp"]},{"filter":"datum.density>0.005*datum.dmax"}],"mark":{"type":"tick","thickness":1.3,"opacity":1,"clip":true},"encoding":{"size":{"field":"density","type":"quantitative","scale":{"range":[0,48],"zero":true},"legend":null},"color":{"field":"grp","type":"nominal","scale":{"domain":["low","high"],"range":["#4A9CA8","#D4AA2A"]},"legend":{"title":null,"symbolType":"square"}}}},
{"transform":[{"filter":"isValid(datum.v)"}],"mark":"boxplot"},
{"transform":[{"filter":"isValid(datum.v)"}],"mark":{"type":"circle","size":5,"color":"black","opacity":1},"encoding":{"xOffset":{"field":"j","type":"quantitative","scale":{"domain":[-1,1],"range":[-32.73,98.18]}}}},
{"transform":[{"filter":"isValid(datum.v)"}],"mark":{"type":"circle","size":12,"color":"black","opacity":1},"encoding":{"y":{"aggregate":"mean","field":"v","type":"quantitative","title":"Mast cells resting"}}},
{"transform":[{"filter":"isValid(datum.p)"}],"mark":{"type":"rule","color":"#666666","strokeWidth":0.7},"encoding":{"x":{"datum":"low"},"x2":{"datum":"high"},"y":{"field":"py","type":"quantitative","title":"Mast cells resting"}}},
{"transform":[{"filter":"isValid(datum.p)"}],"mark":{"type":"rule","color":"#666666","strokeWidth":0.7},"encoding":{"x":{"datum":"low"},"y":{"field":"py","type":"quantitative","title":"Mast cells resting"},"y2":{"field":"py2"}}},
{"transform":[{"filter":"isValid(datum.p)"}],"mark":{"type":"rule","color":"#666666","strokeWidth":0.7},"encoding":{"x":{"datum":"high"},"y":{"field":"py","type":"quantitative","title":"Mast cells resting"},"y2":{"field":"py2"}}},
{"transform":[{"filter":"isValid(datum.p)"}],"mark":{"type":"text","fontSize":9,"dy":-6,"color":"#222222"},"encoding":{"x":{"datum":"low"},"xOffset":{"datum":0.5},"y":{"field":"py","type":"quantitative","title":"Mast cells resting"},"text":{"field":"p","type":"nominal"}}}
],"resolve":{"scale":{"size":"independent"}}},
{"transform":[{"filter":"datum.g=='FGF18'"}],"width":144,"height":133,
"encoding":{"x":{"field":"grp","type":"nominal","title":"FGF18","scale":{"type":"band","domain":["low","high"],"paddingInner":0,"paddingOuter":0.1}},"y":{"field":"v","type":"quantitative","title":"Mast cells resting","scale":{"domain":[-0.32,0.878],"nice":false,"zero":false},"axis":{"values":[-0.3,0,0.3,0.6],"format":".1f"}}},
"layer":[
{"transform":[{"filter":"isValid(datum.v)"},{"density":"v","groupby":["grp"],"extent":[-0.4,1.0],"steps":200,"as":["v","density"]},{"joinaggregate":[{"op":"max","field":"density","as":"dmax"}],"groupby":["grp"]},{"filter":"datum.density>0.005*datum.dmax"}],"mark":{"type":"tick","thickness":1.3,"color":"#333333","opacity":1,"clip":true},"encoding":{"size":{"field":"density","type":"quantitative","scale":{"range":[1.1,49.1],"zero":true},"legend":null}}},
{"transform":[{"filter":"isValid(datum.v)"},{"density":"v","groupby":["grp"],"extent":[-0.4,1.0],"steps":200,"as":["v","density"]},{"joinaggregate":[{"op":"max","field":"density","as":"dmax"}],"groupby":["grp"]},{"filter":"datum.density>0.005*datum.dmax"}],"mark":{"type":"tick","thickness":1.3,"opacity":1,"clip":true},"encoding":{"size":{"field":"density","type":"quantitative","scale":{"range":[0,48],"zero":true},"legend":null},"color":{"field":"grp","type":"nominal","scale":{"domain":["low","high"],"range":["#4A9CA8","#D4AA2A"]},"legend":{"title":null,"symbolType":"square"}}}},
{"transform":[{"filter":"isValid(datum.v)"}],"mark":"boxplot"},
{"transform":[{"filter":"isValid(datum.v)"}],"mark":{"type":"circle","size":5,"color":"black","opacity":1},"encoding":{"xOffset":{"field":"j","type":"quantitative","scale":{"domain":[-1,1],"range":[-32.73,98.18]}}}},
{"transform":[{"filter":"isValid(datum.v)"}],"mark":{"type":"circle","size":12,"color":"black","opacity":1},"encoding":{"y":{"aggregate":"mean","field":"v","type":"quantitative","title":"Mast cells resting"}}},
{"transform":[{"filter":"isValid(datum.p)"}],"mark":{"type":"rule","color":"#666666","strokeWidth":0.7},"encoding":{"x":{"datum":"low"},"x2":{"datum":"high"},"y":{"field":"py","type":"quantitative","title":"Mast cells resting"}}},
{"transform":[{"filter":"isValid(datum.p)"}],"mark":{"type":"rule","color":"#666666","strokeWidth":0.7},"encoding":{"x":{"datum":"low"},"y":{"field":"py","type":"quantitative","title":"Mast cells resting"},"y2":{"field":"py2"}}},
{"transform":[{"filter":"isValid(datum.p)"}],"mark":{"type":"rule","color":"#666666","strokeWidth":0.7},"encoding":{"x":{"datum":"high"},"y":{"field":"py","type":"quantitative","title":"Mast cells resting"},"y2":{"field":"py2"}}},
{"transform":[{"filter":"isValid(datum.p)"}],"mark":{"type":"text","fontSize":9,"dy":-6,"color":"#222222"},"encoding":{"x":{"datum":"low"},"xOffset":{"datum":0.5},"y":{"field":"py","type":"quantitative","title":"Mast cells resting"},"text":{"field":"p","type":"nominal"}}}
],"resolve":{"scale":{"size":"independent"}}},
{"transform":[{"filter":"datum.g=='FGF21'"}],"width":144,"height":133,
"encoding":{"x":{"field":"grp","type":"nominal","title":"FGF21","scale":{"type":"band","domain":["low","high"],"paddingInner":0,"paddingOuter":0.1}},"y":{"field":"v","type":"quantitative","title":"Mast cells resting","scale":{"domain":[-0.309,0.868],"nice":false,"zero":false},"axis":{"values":[-0.3,0,0.3,0.6],"format":".1f"}}},
"layer":[
{"transform":[{"filter":"isValid(datum.v)"},{"density":"v","groupby":["grp"],"extent":[-0.4,1.0],"steps":200,"as":["v","density"]},{"joinaggregate":[{"op":"max","field":"density","as":"dmax"}],"groupby":["grp"]},{"filter":"datum.density>0.005*datum.dmax"}],"mark":{"type":"tick","thickness":1.3,"color":"#333333","opacity":1,"clip":true},"encoding":{"size":{"field":"density","type":"quantitative","scale":{"range":[1.1,49.1],"zero":true},"legend":null}}},
{"transform":[{"filter":"isValid(datum.v)"},{"density":"v","groupby":["grp"],"extent":[-0.4,1.0],"steps":200,"as":["v","density"]},{"joinaggregate":[{"op":"max","field":"density","as":"dmax"}],"groupby":["grp"]},{"filter":"datum.density>0.005*datum.dmax"}],"mark":{"type":"tick","thickness":1.3,"opacity":1,"clip":true},"encoding":{"size":{"field":"density","type":"quantitative","scale":{"range":[0,48],"zero":true},"legend":null},"color":{"field":"grp","type":"nominal","scale":{"domain":["low","high"],"range":["#4A9CA8","#D4AA2A"]},"legend":{"title":null,"symbolType":"square"}}}},
{"transform":[{"filter":"isValid(datum.v)"}],"mark":"boxplot"},
{"transform":[{"filter":"isValid(datum.v)"}],"mark":{"type":"circle","size":5,"color":"black","opacity":1},"encoding":{"xOffset":{"field":"j","type":"quantitative","scale":{"domain":[-1,1],"range":[-32.73,98.18]}}}},
{"transform":[{"filter":"isValid(datum.v)"}],"mark":{"type":"circle","size":12,"color":"black","opacity":1},"encoding":{"y":{"aggregate":"mean","field":"v","type":"quantitative","title":"Mast cells resting"}}},
{"transform":[{"filter":"isValid(datum.p)"}],"mark":{"type":"rule","color":"#666666","strokeWidth":0.7},"encoding":{"x":{"datum":"low"},"x2":{"datum":"high"},"y":{"field":"py","type":"quantitative","title":"Mast cells resting"}}},
{"transform":[{"filter":"isValid(datum.p)"}],"mark":{"type":"rule","color":"#666666","strokeWidth":0.7},"encoding":{"x":{"datum":"low"},"y":{"field":"py","type":"quantitative","title":"Mast cells resting"},"y2":{"field":"py2"}}},
{"transform":[{"filter":"isValid(datum.p)"}],"mark":{"type":"rule","color":"#666666","strokeWidth":0.7},"encoding":{"x":{"datum":"high"},"y":{"field":"py","type":"quantitative","title":"Mast cells resting"},"y2":{"field":"py2"}}},
{"transform":[{"filter":"isValid(datum.p)"}],"mark":{"type":"text","fontSize":9,"dy":-6,"color":"#222222"},"encoding":{"x":{"datum":"low"},"xOffset":{"datum":0.5},"y":{"field":"py","type":"quantitative","title":"Mast cells resting"},"text":{"field":"p","type":"nominal"}}}
],"resolve":{"scale":{"size":"independent"}}}
]},
{"spacing":2,"resolve":{"legend":{"color":"independent"}},"hconcat":[
{"transform":[{"filter":"datum.g=='CCR9'"}],"width":144,"height":133,
"encoding":{"x":{"field":"grp","type":"nominal","title":"CCR9","scale":{"type":"band","domain":["low","high"],"paddingInner":0,"paddingOuter":0.1}},"y":{"field":"v","type":"quantitative","title":"Mast cells resting","scale":{"domain":[-0.351,0.917],"nice":false,"zero":false},"axis":{"values":[-0.3,0,0.3,0.6,0.9],"format":".1f"}}},
"layer":[
{"transform":[{"filter":"isValid(datum.v)"},{"density":"v","groupby":["grp"],"extent":[-0.4,1.0],"steps":200,"as":["v","density"]},{"joinaggregate":[{"op":"max","field":"density","as":"dmax"}],"groupby":["grp"]},{"filter":"datum.density>0.005*datum.dmax"}],"mark":{"type":"tick","thickness":1.3,"color":"#333333","opacity":1,"clip":true},"encoding":{"size":{"field":"density","type":"quantitative","scale":{"range":[1.1,49.1],"zero":true},"legend":null}}},
{"transform":[{"filter":"isValid(datum.v)"},{"density":"v","groupby":["grp"],"extent":[-0.4,1.0],"steps":200,"as":["v","density"]},{"joinaggregate":[{"op":"max","field":"density","as":"dmax"}],"groupby":["grp"]},{"filter":"datum.density>0.005*datum.dmax"}],"mark":{"type":"tick","thickness":1.3,"opacity":1,"clip":true},"encoding":{"size":{"field":"density","type":"quantitative","scale":{"range":[0,48],"zero":true},"legend":null},"color":{"field":"grp","type":"nominal","scale":{"domain":["low","high"],"range":["#4A9CA8","#D4AA2A"]},"legend":{"title":null,"symbolType":"square"}}}},
{"transform":[{"filter":"isValid(datum.v)"}],"mark":"boxplot"},
{"transform":[{"filter":"isValid(datum.v)"}],"mark":{"type":"circle","size":5,"color":"black","opacity":1},"encoding":{"xOffset":{"field":"j","type":"quantitative","scale":{"domain":[-1,1],"range":[-32.73,98.18]}}}},
{"transform":[{"filter":"isValid(datum.v)"}],"mark":{"type":"circle","size":12,"color":"black","opacity":1},"encoding":{"y":{"aggregate":"mean","field":"v","type":"quantitative","title":"Mast cells resting"}}},
{"transform":[{"filter":"isValid(datum.p)"}],"mark":{"type":"rule","color":"#666666","strokeWidth":0.7},"encoding":{"x":{"datum":"low"},"x2":{"datum":"high"},"y":{"field":"py","type":"quantitative","title":"Mast cells resting"}}},
{"transform":[{"filter":"isValid(datum.p)"}],"mark":{"type":"rule","color":"#666666","strokeWidth":0.7},"encoding":{"x":{"datum":"low"},"y":{"field":"py","type":"quantitative","title":"Mast cells resting"},"y2":{"field":"py2"}}},
{"transform":[{"filter":"isValid(datum.p)"}],"mark":{"type":"rule","color":"#666666","strokeWidth":0.7},"encoding":{"x":{"datum":"high"},"y":{"field":"py","type":"quantitative","title":"Mast cells resting"},"y2":{"field":"py2"}}},
{"transform":[{"filter":"isValid(datum.p)"}],"mark":{"type":"text","fontSize":9,"dy":-6,"color":"#222222"},"encoding":{"x":{"datum":"low"},"xOffset":{"datum":0.5},"y":{"field":"py","type":"quantitative","title":"Mast cells resting"},"text":{"field":"p","type":"nominal"}}}
],"resolve":{"scale":{"size":"independent"}}},
{"transform":[{"filter":"datum.g=='LEP'"}],"width":144,"height":133,
"encoding":{"x":{"field":"grp","type":"nominal","title":"LEP","scale":{"type":"band","domain":["low","high"],"paddingInner":0,"paddingOuter":0.1}},"y":{"field":"v","type":"quantitative","title":"Mast cells resting","scale":{"domain":[-0.345,0.911],"nice":false,"zero":false},"axis":{"values":[-0.3,0,0.3,0.6,0.9],"format":".1f"}}},
"layer":[
{"transform":[{"filter":"isValid(datum.v)"},{"density":"v","groupby":["grp"],"extent":[-0.4,1.0],"steps":200,"as":["v","density"]},{"joinaggregate":[{"op":"max","field":"density","as":"dmax"}],"groupby":["grp"]},{"filter":"datum.density>0.005*datum.dmax"}],"mark":{"type":"tick","thickness":1.3,"color":"#333333","opacity":1,"clip":true},"encoding":{"size":{"field":"density","type":"quantitative","scale":{"range":[1.1,49.1],"zero":true},"legend":null}}},
{"transform":[{"filter":"isValid(datum.v)"},{"density":"v","groupby":["grp"],"extent":[-0.4,1.0],"steps":200,"as":["v","density"]},{"joinaggregate":[{"op":"max","field":"density","as":"dmax"}],"groupby":["grp"]},{"filter":"datum.density>0.005*datum.dmax"}],"mark":{"type":"tick","thickness":1.3,"opacity":1,"clip":true},"encoding":{"size":{"field":"density","type":"quantitative","scale":{"range":[0,48],"zero":true},"legend":null},"color":{"field":"grp","type":"nominal","scale":{"domain":["low","high"],"range":["#4A9CA8","#D4AA2A"]},"legend":{"title":null,"symbolType":"square"}}}},
{"transform":[{"filter":"isValid(datum.v)"}],"mark":"boxplot"},
{"transform":[{"filter":"isValid(datum.v)"}],"mark":{"type":"circle","size":5,"color":"black","opacity":1},"encoding":{"xOffset":{"field":"j","type":"quantitative","scale":{"domain":[-1,1],"range":[-32.73,98.18]}}}},
{"transform":[{"filter":"isValid(datum.v)"}],"mark":{"type":"circle","size":12,"color":"black","opacity":1},"encoding":{"y":{"aggregate":"mean","field":"v","type":"quantitative","title":"Mast cells resting"}}},
{"transform":[{"filter":"isValid(datum.p)"}],"mark":{"type":"rule","color":"#666666","strokeWidth":0.7},"encoding":{"x":{"datum":"low"},"x2":{"datum":"high"},"y":{"field":"py","type":"quantitative","title":"Mast cells resting"}}},
{"transform":[{"filter":"isValid(datum.p)"}],"mark":{"type":"rule","color":"#666666","strokeWidth":0.7},"encoding":{"x":{"datum":"low"},"y":{"field":"py","type":"quantitative","title":"Mast cells resting"},"y2":{"field":"py2"}}},
{"transform":[{"filter":"isValid(datum.p)"}],"mark":{"type":"rule","color":"#666666","strokeWidth":0.7},"encoding":{"x":{"datum":"high"},"y":{"field":"py","type":"quantitative","title":"Mast cells resting"},"y2":{"field":"py2"}}},
{"transform":[{"filter":"isValid(datum.p)"}],"mark":{"type":"text","fontSize":9,"dy":-6,"color":"#222222"},"encoding":{"x":{"datum":"low"},"xOffset":{"datum":0.5},"y":{"field":"py","type":"quantitative","title":"Mast cells resting"},"text":{"field":"p","type":"nominal"}}}
],"resolve":{"scale":{"size":"independent"}}},
{"transform":[{"filter":"datum.g=='ROBO2'"}],"width":144,"height":133,
"encoding":{"x":{"field":"grp","type":"nominal","title":"ROBO2","scale":{"type":"band","domain":["low","high"],"paddingInner":0,"paddingOuter":0.1}},"y":{"field":"v","type":"quantitative","title":"Mast cells resting","scale":{"domain":[-0.317,0.876],"nice":false,"zero":false},"axis":{"values":[-0.3,0,0.3,0.6],"format":".1f"}}},
"layer":[
{"transform":[{"filter":"isValid(datum.v)"},{"density":"v","groupby":["grp"],"extent":[-0.4,1.0],"steps":200,"as":["v","density"]},{"joinaggregate":[{"op":"max","field":"density","as":"dmax"}],"groupby":["grp"]},{"filter":"datum.density>0.005*datum.dmax"}],"mark":{"type":"tick","thickness":1.3,"color":"#333333","opacity":1,"clip":true},"encoding":{"size":{"field":"density","type":"quantitative","scale":{"range":[1.1,49.1],"zero":true},"legend":null}}},
{"transform":[{"filter":"isValid(datum.v)"},{"density":"v","groupby":["grp"],"extent":[-0.4,1.0],"steps":200,"as":["v","density"]},{"joinaggregate":[{"op":"max","field":"density","as":"dmax"}],"groupby":["grp"]},{"filter":"datum.density>0.005*datum.dmax"}],"mark":{"type":"tick","thickness":1.3,"opacity":1,"clip":true},"encoding":{"size":{"field":"density","type":"quantitative","scale":{"range":[0,48],"zero":true},"legend":null},"color":{"field":"grp","type":"nominal","scale":{"domain":["low","high"],"range":["#4A9CA8","#D4AA2A"]},"legend":{"title":null,"symbolType":"square"}}}},
{"transform":[{"filter":"isValid(datum.v)"}],"mark":"boxplot"},
{"transform":[{"filter":"isValid(datum.v)"}],"mark":{"type":"circle","size":5,"color":"black","opacity":1},"encoding":{"xOffset":{"field":"j","type":"quantitative","scale":{"domain":[-1,1],"range":[-32.73,98.18]}}}},
{"transform":[{"filter":"isValid(datum.v)"}],"mark":{"type":"circle","size":12,"color":"black","opacity":1},"encoding":{"y":{"aggregate":"mean","field":"v","type":"quantitative","title":"Mast cells resting"}}},
{"transform":[{"filter":"isValid(datum.p)"}],"mark":{"type":"rule","color":"#666666","strokeWidth":0.7},"encoding":{"x":{"datum":"low"},"x2":{"datum":"high"},"y":{"field":"py","type":"quantitative","title":"Mast cells resting"}}},
{"transform":[{"filter":"isValid(datum.p)"}],"mark":{"type":"rule","color":"#666666","strokeWidth":0.7},"encoding":{"x":{"datum":"low"},"y":{"field":"py","type":"quantitative","title":"Mast cells resting"},"y2":{"field":"py2"}}},
{"transform":[{"filter":"isValid(datum.p)"}],"mark":{"type":"rule","color":"#666666","strokeWidth":0.7},"encoding":{"x":{"datum":"high"},"y":{"field":"py","type":"quantitative","title":"Mast cells resting"},"y2":{"field":"py2"}}},
{"transform":[{"filter":"isValid(datum.p)"}],"mark":{"type":"text","fontSize":9,"dy":-6,"color":"#222222"},"encoding":{"x":{"datum":"low"},"xOffset":{"datum":0.5},"y":{"field":"py","type":"quantitative","title":"Mast cells resting"},"text":{"field":"p","type":"nominal"}}}
],"resolve":{"scale":{"size":"independent"}}},
{"transform":[{"filter":"datum.g=='VAV2b'"}],"width":144,"height":133,
"encoding":{"x":{"field":"grp","type":"nominal","title":"VAV2","scale":{"type":"band","domain":["low","high"],"paddingInner":0,"paddingOuter":0.1}},"y":{"field":"v","type":"quantitative","title":"Mast cells resting","scale":{"domain":[-0.331,0.892],"nice":false,"zero":false},"axis":{"values":[-0.3,0,0.3,0.6],"format":".1f"}}},
"layer":[
{"transform":[{"filter":"isValid(datum.v)"},{"density":"v","groupby":["grp"],"extent":[-0.4,1.0],"steps":200,"as":["v","density"]},{"joinaggregate":[{"op":"max","field":"density","as":"dmax"}],"groupby":["grp"]},{"filter":"datum.density>0.005*datum.dmax"}],"mark":{"type":"tick","thickness":1.3,"color":"#333333","opacity":1,"clip":true},"encoding":{"size":{"field":"density","type":"quantitative","scale":{"range":[1.1,49.1],"zero":true},"legend":null}}},
{"transform":[{"filter":"isValid(datum.v)"},{"density":"v","groupby":["grp"],"extent":[-0.4,1.0],"steps":200,"as":["v","density"]},{"joinaggregate":[{"op":"max","field":"density","as":"dmax"}],"groupby":["grp"]},{"filter":"datum.density>0.005*datum.dmax"}],"mark":{"type":"tick","thickness":1.3,"opacity":1,"clip":true},"encoding":{"size":{"field":"density","type":"quantitative","scale":{"range":[0,48],"zero":true},"legend":null},"color":{"field":"grp","type":"nominal","scale":{"domain":["low","high"],"range":["#4A9CA8","#D4AA2A"]},"legend":{"title":null,"symbolType":"square"}}}},
{"transform":[{"filter":"isValid(datum.v)"}],"mark":"boxplot"},
{"transform":[{"filter":"isValid(datum.v)"}],"mark":{"type":"circle","size":5,"color":"black","opacity":1},"encoding":{"xOffset":{"field":"j","type":"quantitative","scale":{"domain":[-1,1],"range":[-32.73,98.18]}}}},
{"transform":[{"filter":"isValid(datum.v)"}],"mark":{"type":"circle","size":12,"color":"black","opacity":1},"encoding":{"y":{"aggregate":"mean","field":"v","type":"quantitative","title":"Mast cells resting"}}},
{"transform":[{"filter":"isValid(datum.p)"}],"mark":{"type":"rule","color":"#666666","strokeWidth":0.7},"encoding":{"x":{"datum":"low"},"x2":{"datum":"high"},"y":{"field":"py","type":"quantitative","title":"Mast cells resting"}}},
{"transform":[{"filter":"isValid(datum.p)"}],"mark":{"type":"rule","color":"#666666","strokeWidth":0.7},"encoding":{"x":{"datum":"low"},"y":{"field":"py","type":"quantitative","title":"Mast cells resting"},"y2":{"field":"py2"}}},
{"transform":[{"filter":"isValid(datum.p)"}],"mark":{"type":"rule","color":"#666666","strokeWidth":0.7},"encoding":{"x":{"datum":"high"},"y":{"field":"py","type":"quantitative","title":"Mast cells resting"},"y2":{"field":"py2"}}},
{"transform":[{"filter":"isValid(datum.p)"}],"mark":{"type":"text","fontSize":9,"dy":-6,"color":"#222222"},"encoding":{"x":{"datum":"low"},"xOffset":{"datum":0.5},"y":{"field":"py","type":"quantitative","title":"Mast cells resting"},"text":{"field":"p","type":"nominal"}}}
],"resolve":{"scale":{"size":"independent"}}}
]}
]}
]
}
